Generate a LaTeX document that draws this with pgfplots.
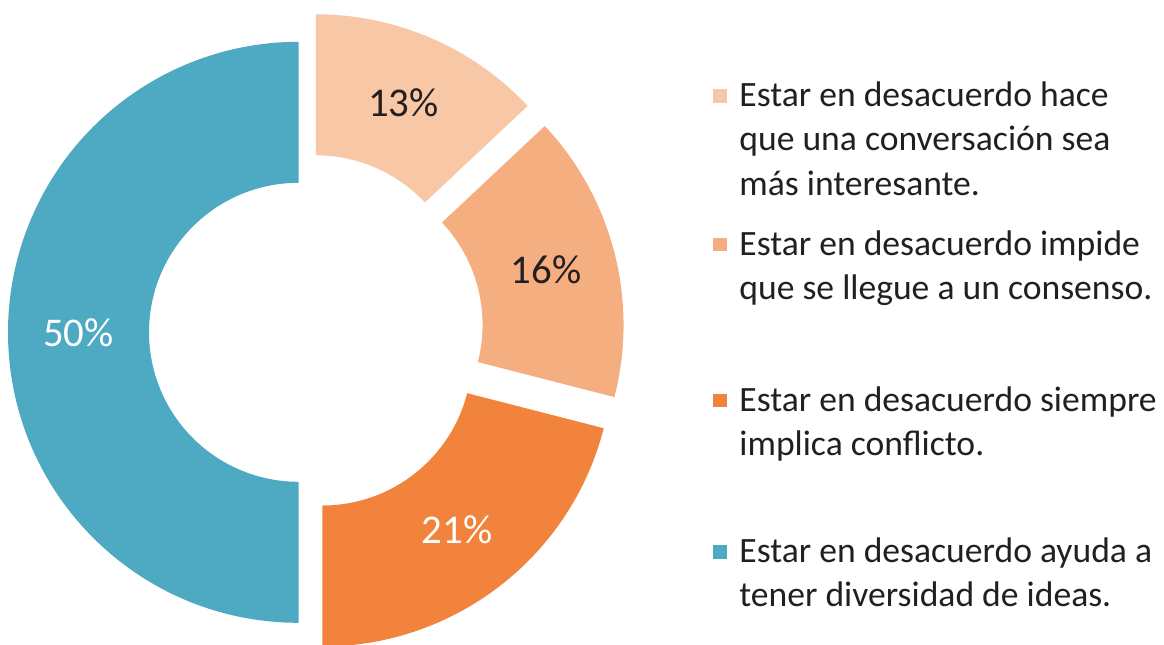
\documentclass[border=0pt]{standalone}
\usepackage{pgfplots}
\pgfplotsset{compat=1.18}
\usepackage{pgfplotstable}
\usepackage{fontspec}
\setmainfont{Carlito}
\definecolor{cA}{RGB}{248,199,166}
\definecolor{cB}{RGB}{245,174,128}
\definecolor{cC}{RGB}{242,131,60}
\definecolor{cD}{RGB}{78,169,194}
\definecolor{txt}{RGB}{35,31,32}

% value (%), fill colour, label colour, explosion (px)
\pgfplotstableread{
val col lab ex
13 cA txt 30
16 cB txt 30
21 cC white 30
50 cD white 5.5
}\slices

\def\cumsum{0}
\foreach \i in {0,...,3}{%
  \pgfplotstablegetelem{\i}{val}\of\slices \let\v\pgfplotsretval
  \pgfplotstablegetelem{\i}{col}\of\slices \let\c\pgfplotsretval
  \pgfplotstablegetelem{\i}{lab}\of\slices \let\l\pgfplotsretval
  \pgfplotstablegetelem{\i}{ex}\of\slices \let\e\pgfplotsretval
  \pgfmathsetmacro\aS{90-3.6*\cumsum}%
  \pgfmathsetmacro\aE{90-3.6*(\cumsum+\v)}%
  \pgfmathsetmacro\aM{(\aS+\aE)/2}%
  \pgfmathsetmacro\eP{\e*0.5}%
  \pgfmathsetmacro\newcum{\cumsum+\v}%
  \global\let\cumsum\newcum
  \expandafter\xdef\csname aS\i\endcsname{\aS}%
  \expandafter\xdef\csname aE\i\endcsname{\aE}%
  \expandafter\xdef\csname aM\i\endcsname{\aM}%
  \expandafter\xdef\csname ex\i\endcsname{\eP}%
  \expandafter\xdef\csname col\i\endcsname{\c}%
  \expandafter\xdef\csname lab\i\endcsname{\l}%
  \expandafter\xdef\csname v\i\endcsname{\v}%
}

\def\Rout{145.25pt}
\def\Rin{74.75pt}
\def\Rd{70.5pt}
\def\Rl{110pt}

\newcommand\drawslice[1]{%
  \edef\sS{\csname aS#1\endcsname}%
  \edef\sE{\csname aE#1\endcsname}%
  \edef\sM{\csname aM#1\endcsname}%
  \edef\sX{\csname ex#1\endcsname}%
  \edef\sC{\csname col#1\endcsname}%
  \edef\sL{\csname lab#1\endcsname}%
  \edef\sV{\csname v#1\endcsname}%
  \edef\doit{%
  \noexpand\fill[fill=\sC] (axis cs:304,332.3) ++(\sM:\sX pt) ++(\sS:\Rout)
     arc[start angle=\sS, end angle=\sE, radius=\Rout]
     -- ++(\sE+180:\Rd)
     arc[start angle=\sE, end angle=\sS, radius=\Rin] -- cycle;
  \noexpand\path (axis cs:304,332.3) ++(\sM:\sX pt) ++(\sM:\Rl)
     node[text=\sL, inner sep=0pt, font=\noexpand\pctfont] {\sV\noexpand\%};}%
  \doit
}
\newcommand\pctfont{\fontsize{20.4}{24}\selectfont}
\newcommand\legfont{\fontsize{17.8}{22}\selectfont}

\newcommand\legline[2]{%
  \node[anchor=base west, inner sep=0pt, text=txt, font=\legfont]
    at (axis cs:739,#1) {#2};}

\begin{document}
\begin{tikzpicture}
\begin{axis}[hide axis, scale only axis, width=582pt, height=322pt,
  xmin=0, xmax=1164, ymin=0, ymax=644, y dir=reverse, clip=false]
\drawslice{0}
\drawslice{1}
\drawslice{2}
\drawslice{3}
% legend
\fill[cA] (axis cs:713,89) rectangle (axis cs:726.5,102.5);
\legline{106.7}{Estar en desacuerdo hace}
\legline{150.9}{que una conversación sea}
\legline{195.1}{más interesante.}
\fill[cB] (axis cs:713,237.5) rectangle (axis cs:726.5,251);
\legline{255}{Estar en desacuerdo impide}
\legline{299.2}{que se llegue a un consenso.}
\fill[cC] (axis cs:713,393.5) rectangle (axis cs:726.5,407);
\legline{411.5}{Estar en desacuerdo siempre}
\legline{455}{implica conflicto.}
\fill[cD] (axis cs:713,545) rectangle (axis cs:726.5,558.5);
\legline{562.7}{Estar en desacuerdo ayuda a}
\legline{606.7}{tener diversidad de ideas.}
\end{axis}
\pgfresetboundingbox
\path (0,0) rectangle (582pt,322pt);
\end{tikzpicture}
\end{document}
